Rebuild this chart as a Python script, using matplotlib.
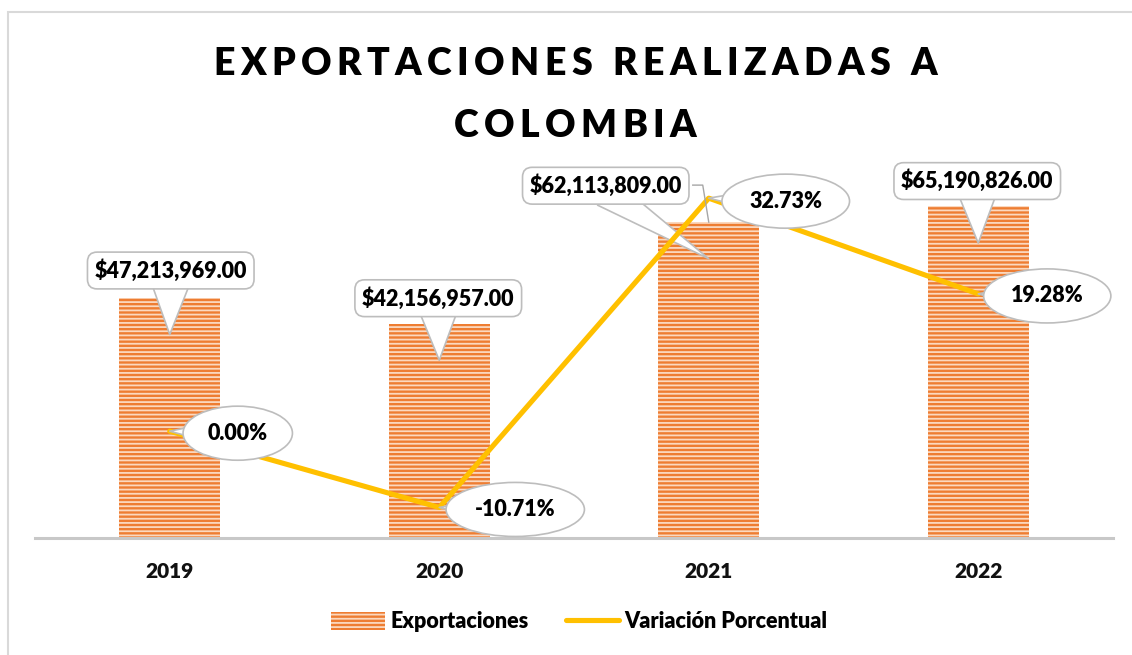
import matplotlib.pyplot as plt
from matplotlib.patches import Rectangle
from matplotlib.lines import Line2D
from matplotlib.transforms import IdentityTransform

plt.rcParams['font.family'] = ['Lato', 'DejaVu Sans']
plt.rcParams['hatch.linewidth'] = 1.3

years = ['2019', '2020', '2021', '2022']
exportaciones = [47213969.00, 42156957.00, 62113809.00, 65190826.00]
variacion = [0.00, -10.71, 32.73, 19.28]

# callout offsets (pixels) text centre relative to the pointed spot
usd_offsets = [(1, 64), (-1, 62), (-103, 73), (-1, 62)]
usd_wedge = [2.0, 2.0, 1.4, 2.0]
pct_offsets = [(68, -2), (76, -2), (77, -3), (69, -2)]

W, H = 1132, 655
WT = 'heavy'
fig = plt.figure(figsize=(W / 100, H / 100), dpi=100)
ax = fig.add_axes([35 / W, 1 - 538 / H, (1113 - 35) / W, (538 - 182) / H])
ax2 = ax.twinx()

x = list(range(len(years)))
bars = ax.bar(x, exportaciones, width=0.375, color='#EE7D32', edgecolor='#FBD9C0',
              hatch='----', linewidth=0, label='Exportaciones')
line, = ax2.plot(x, variacion, color='#FFC000', lw=3.7, solid_capstyle='round',
                 label='Variación Porcentual')

ax.set_xlim(-0.5, 3.5)
ax.set_ylim(0, 70e6)
ax2.set_ylim(-15, 35)
for a in (ax, ax2):
    a.set_yticks([])
    for s in ('left', 'right', 'top', 'bottom'):
        a.spines[s].set_visible(False)
ax.spines['bottom'].set_visible(True)
ax.spines['bottom'].set_color('#C8C8C8')
ax.spines['bottom'].set_linewidth(2.2)
ax.set_xticks(x, years, fontsize=15, fontweight=WT, color='#111111')
ax.tick_params(axis='x', length=0, pad=17)

gray = '#BDBDBD'
for i, v in enumerate(exportaciones):
    ax.annotate(f'${v:,.2f}', xy=(i, v - 7.2e6), xytext=usd_offsets[i],
                textcoords='offset pixels', ha='center', va='center',
                fontsize=15.5, fontweight=WT, annotation_clip=False,
                bbox=dict(boxstyle='round,pad=0.33,rounding_size=0.45', fc='white', ec=gray, lw=1.2),
                arrowprops=dict(arrowstyle=f'wedge,tail_width={usd_wedge[i]}', fc='white',
                                ec=gray, lw=1.2, patchA=None, shrinkA=0, shrinkB=0,
                                relpos=(0.5, 0.2)))

# leader line of the 2021 label (from box edge to bar top)
px, py = ax.transData.transform((2, exportaciones[2]))
fig.add_artist(Line2D([px - 16, px - 6, px], [py + 37, py + 37, py],
                      transform=IdentityTransform(), color='#A6A6A6', lw=1, zorder=1.5))

for i, p in enumerate(variacion):
    ax2.annotate(f'{p:.2f}%', xy=(i, p), xytext=pct_offsets[i],
                 textcoords='offset pixels', ha='center', va='center',
                 fontsize=15.5, fontweight=WT, annotation_clip=False,
                 bbox=dict(boxstyle='ellipse,pad=0.4', fc='white', ec=gray, lw=1.2),
                 arrowprops=dict(arrowstyle='wedge,tail_width=1.5', fc='white', ec=gray, lw=1.2,
                                 patchA=None, shrinkA=0, shrinkB=0))

fig.legend(handles=[bars, line], loc='center', bbox_to_anchor=(0.512, 1 - 622 / H),
           ncol=2, frameon=False, prop=dict(size=15.5, weight=WT),
           handlelength=2.5, handleheight=0.85, handletextpad=0.25, columnspacing=1.7)

# chart border
fig.add_artist(Rectangle((8 / W, -0.1), 1.2, 1.1 - 12 / H, transform=fig.transFigure,
                         fill=False, ec='#D9D9D9', lw=1.5))


def spaced_line(text, cx, base_y, target=None, spacing=None, size=27):
    r = fig.canvas.get_renderer()
    tt = [fig.text(0, 0, ch, fontsize=size, fontweight=WT, va='baseline', ha='left')
          for ch in text]
    ws = []
    for ch, t in zip(text, tt):
        ws.append(size * 100 / 72 * 0.25 if ch == ' ' else t.get_window_extent(r).width)
    if spacing is None:
        spacing = (target - sum(ws)) / (len(text) - 1)
    total = sum(ws) + spacing * (len(text) - 1)
    xp = cx - total / 2
    for t, w in zip(tt, ws):
        t.set_position((xp / W, 1 - base_y / H))
        xp += w + spacing
    return spacing


sp = spaced_line('EXPORTACIONES REALIZADAS A', 575, 75, target=724)
spaced_line('COLOMBIA', 575, 137, spacing=sp)

fig.savefig('out.png', dpi=100)
